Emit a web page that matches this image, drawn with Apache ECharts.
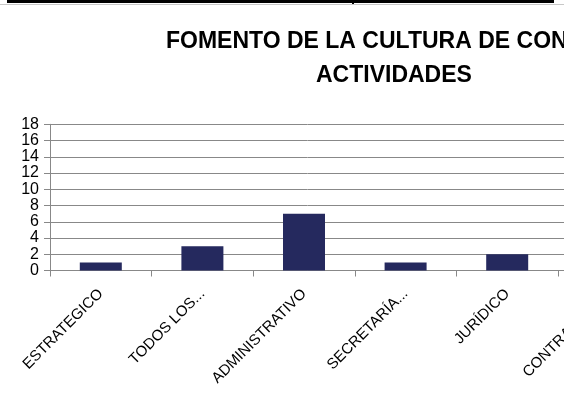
<!DOCTYPE html>
<html>
<head>
<meta charset="utf-8">
<script src="https://cdn.jsdelivr.net/npm/echarts@6/dist/echarts.min.js"></script>
<style>
html,body{margin:0;padding:0;background:#fff;}
#c{width:564px;height:406px;}
</style>
</head>
<body>
<div id="c"></div>
<script>
const titleLine1 = 'FOMENTO DE LA CULTURA DE CONTROL';
const titleLine2 = 'ACTIVIDADES';
const categories = ['ESTRATEGICO', 'TODOS LOS...', 'ADMINISTRATIVO', 'SECRETARÍA...', 'JURÍDICO', 'CONTRATACIÓN'];
const values = [1, 3, 7, 1, 2, 1];
const yMin = 0, yMax = 18, yStep = 2;

const chart = echarts.init(document.getElementById('c'), null, {renderer: 'canvas'});
const font = 'Liberation Sans, Arial, sans-serif';
chart.setOption({
  animation: false,
  backgroundColor: '#fff',
  title: [
    {text: titleLine1, left: 161, top: 25, textStyle: {fontFamily: font, fontWeight: 'bold', fontSize: 23, color: '#000'}},
    {text: titleLine2, left: 311, top: 59, textStyle: {fontFamily: font, fontWeight: 'bold', fontSize: 23, color: '#000'}}
  ],
  graphic: [
    {type: 'rect', shape: {x: 7, y: 0, width: 547, height: 3}, style: {fill: '#000'}, silent: true},
    {type: 'line', shape: {x1: 0, y1: 4.5, x2: 564, y2: 4.5}, style: {stroke: '#c8c8c8', lineWidth: 1}, silent: true},
    {type: 'rect', shape: {x: 352, y: 0, width: 2, height: 4}, style: {fill: '#000'}, silent: true}
  ],
  grid: {left: 50, top: 124.3, width: 609.6, height: 146.2, containLabel: false, outerBoundsMode: 'none'},
  xAxis: {
    type: 'category',
    data: categories,
    axisLine: {show: true, lineStyle: {color: '#888', width: 1}},
    axisTick: {show: true, alignWithLabel: false, length: 6, lineStyle: {color: '#888'}},
    axisLabel: {interval: 0, rotate: 45, margin: 21, fontFamily: font, fontSize: 15, color: '#000'}
  },
  yAxis: {
    type: 'value',
    min: yMin, max: yMax, interval: yStep,
    axisLine: {show: true, lineStyle: {color: '#888', width: 1}},
    axisTick: {show: true, length: 6, lineStyle: {color: '#888'}},
    splitLine: {show: true, lineStyle: {color: '#888', width: 1}},
    axisLabel: {margin: 11, fontFamily: font, fontSize: 16, color: '#000'}
  },
  series: [{
    type: 'bar',
    data: values,
    barWidth: 42,
    itemStyle: {color: '#25295E'}
  }]
});
</script>
</body>
</html>
